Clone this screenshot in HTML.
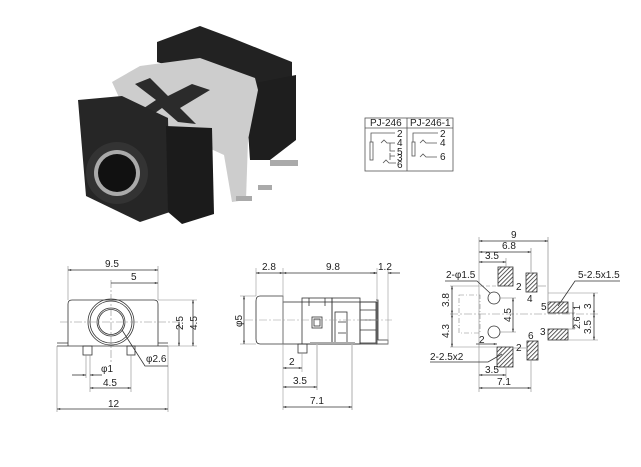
<!DOCTYPE html>
<html><head><meta charset="utf-8"><style>
html,body{margin:0;padding:0;background:#fff;}
svg{display:block;}
text{font-family:"Liberation Sans",sans-serif;font-size:10px;fill:#222;}
</style></head><body>
<svg width="641" height="467" viewBox="0 0 641 467" xmlns="http://www.w3.org/2000/svg">
<defs>
<pattern id="h" width="3" height="3" patternUnits="userSpaceOnUse" patternTransform="rotate(45)">
<rect width="3" height="3" fill="#fff"/><line x1="0" y1="0" x2="0" y2="3" stroke="#333" stroke-width="1.6"/></pattern>
<marker id="a" viewBox="0 0 10 10" refX="10" refY="5" markerWidth="6" markerHeight="4" orient="auto-start-reverse"><path d="M0,2L10,5L0,8z" fill="#333"/></marker>
</defs>

<!-- product photo -->
<g>
<polygon points="157,42 200,26 232,38 262,50 292,62 292,82 255,92 157,62" fill="#222"/>
<polygon points="245,85 296,75 296,140 270,160 250,160" fill="#1e1e1e"/>
<polygon points="112,82 140,66 200,58 255,78 258,90 248,140 246,200 232,202 224,155 165,128 122,104" fill="#cdcdcd"/>
<polygon points="135,84 150,78 168,96 192,84 210,90 180,108 196,124 178,122 162,108 148,118 138,112 156,100" fill="#2b2b2b"/>
<polygon points="78,100 122,96 168,118 170,212 140,222 86,196" fill="#262626"/>
<polygon points="166,126 212,128 214,214 182,224 168,212" fill="#1b1b1b"/>
<circle cx="117" cy="173" r="31" fill="#333"/>
<circle cx="117" cy="173" r="23" fill="#aaa"/>
<circle cx="117" cy="173" r="19" fill="#111"/>
<rect x="270" y="160" width="28" height="6" fill="#aaa"/>
<rect x="236" y="196" width="16" height="5" fill="#aaa"/>
<rect x="258" y="185" width="14" height="5" fill="#aaa"/>
</g>

<!-- schematic box -->
<g stroke="#555" fill="none" stroke-width="0.8">
<rect x="365" y="118" width="88" height="53"/>
<line x1="365" y1="128" x2="453" y2="128"/>
<line x1="407" y1="118" x2="407" y2="171"/>
<rect x="370" y="142" width="3" height="18"/>
<rect x="412" y="142" width="3" height="14"/>
<polyline points="371,142 371,133 395,133"/>
<polyline points="413,142 413,133 438,133"/>
<path d="M381,143 l3,-3 l3,3 h8 M390,143 v8 h5 M390,156 v-3 M383,163 l3,-3 l3,3 h7 M390,160 v-4 h5"/>
<path d="M420,143 l3,-3 l3,3 h11 M420,157 l3,-3 l3,3 h11"/>
</g>
<g style="font-size:9px">
<text x="370" y="126">PJ-246</text><text x="410" y="126">PJ-246-1</text>
<text x="397" y="137">2</text><text x="397" y="146">4</text><text x="397" y="155">5</text>
<text x="397" y="161">3</text><text x="397" y="168">6</text>
<text x="440" y="137">2</text><text x="440" y="146">4</text><text x="440" y="160">6</text>
</g>

<!-- front view -->
<g stroke="#333" stroke-width="0.8" fill="none">
<path d="M68,346 V304 q0,-4 4,-4 H154 q4,0 4,4 V346"/>
<path d="M57,346 H168 M57,343 H68 M158,343 H168"/>
<circle cx="111" cy="322" r="23"/><circle cx="111" cy="322" r="21"/><circle cx="111" cy="322" r="14"/><circle cx="111" cy="322" r="12.5"/>
<rect x="83" y="346" width="9" height="9"/><rect x="127" y="346" width="8" height="9"/>
<g stroke="#888" stroke-width="0.6">
<line x1="68" y1="266" x2="68" y2="300"/><line x1="158" y1="266" x2="158" y2="300"/>
<line x1="111" y1="280" x2="111" y2="362" stroke-dasharray="8,2,2,2"/>
<line x1="60" y1="322" x2="182" y2="322" stroke-dasharray="8,2,2,2"/>
<line x1="158" y1="300" x2="197" y2="300"/><line x1="168" y1="346" x2="197" y2="346"/>
<line x1="57" y1="346" x2="57" y2="412"/><line x1="168" y1="346" x2="168" y2="412"/>
<line x1="86" y1="355" x2="86" y2="378"/><line x1="90" y1="355" x2="90" y2="392"/><line x1="131" y1="355" x2="131" y2="392"/>
</g>
<line x1="68" y1="270" x2="158" y2="270" marker-start="url(#a)" marker-end="url(#a)"/>
<line x1="111" y1="283" x2="158" y2="283" marker-end="url(#a)"/>
<line x1="193" y1="300" x2="193" y2="346" marker-start="url(#a)" marker-end="url(#a)"/>
<line x1="179" y1="322" x2="179" y2="346" marker-start="url(#a)" marker-end="url(#a)"/>
<polyline points="122,330 145,366 168,366"/>
<line x1="72" y1="375" x2="86" y2="375" marker-end="url(#a)"/><line x1="102" y1="375" x2="90" y2="375" marker-end="url(#a)"/>
<line x1="90" y1="388" x2="131" y2="388" marker-start="url(#a)" marker-end="url(#a)"/>
<line x1="57" y1="409" x2="168" y2="409" marker-start="url(#a)" marker-end="url(#a)"/>
</g>
<text x="105" y="267">9.5</text><text x="131" y="280">5</text>
<text x="197" y="330" transform="rotate(-90 197 330)">4.5</text>
<text x="183" y="330" transform="rotate(-90 183 330)">2.5</text>
<text x="146" y="362">φ2.6</text><text x="101" y="372">φ1</text>
<text x="103" y="386">4.5</text><text x="108" y="407">12</text>

<!-- side view -->
<g stroke="#333" stroke-width="0.8" fill="none">
<path d="M283,296 H260 q-4,0 -4,5 V339 q0,5 4,5 H283 Z"/>
<rect x="283" y="302" width="94" height="42"/>
<rect x="302" y="298" width="30" height="46"/>
<rect x="312" y="317" width="10" height="11"/><rect x="314" y="319" width="6" height="7"/>
<rect x="332" y="298" width="28" height="46"/><rect x="335" y="312" width="12" height="32"/>
<rect x="360" y="302" width="16" height="41"/>
<path d="M360,310 H376 M360,320 H376 M360,330 H376 M338,322 H346 M338,333 H346"/>
<path d="M309,298 v8 M325,298 v8"/>
<path d="M376,300 H378 V340 H388 V344 H376"/>
<rect x="298" y="344" width="9" height="9"/>
<rect x="310" y="342" width="45" height="2" fill="#aaa" stroke="none"/>
<g stroke="#999" stroke-width="0.6">
<line x1="245" y1="320" x2="392" y2="320" stroke-dasharray="8,2,2,2"/>
<line x1="256" y1="268" x2="256" y2="296"/><line x1="283" y1="268" x2="283" y2="410"/>
<line x1="377" y1="268" x2="377" y2="300"/><line x1="388" y1="268" x2="388" y2="344"/>
<line x1="240" y1="296" x2="256" y2="296"/><line x1="240" y1="344" x2="256" y2="344"/>
<line x1="302" y1="353" x2="302" y2="372"/>
<line x1="317" y1="344" x2="317" y2="390" stroke="#bbb" stroke-width="1.2"/>
<line x1="352" y1="344" x2="352" y2="410" stroke="#bbb" stroke-width="1.2"/>
</g>
<line x1="256" y1="273" x2="283" y2="273" marker-start="url(#a)" marker-end="url(#a)"/>
<line x1="283" y1="273" x2="377" y2="273" marker-start="url(#a)" marker-end="url(#a)"/>
<line x1="370" y1="273" x2="377" y2="273" marker-end="url(#a)"/><line x1="400" y1="273" x2="388" y2="273" marker-end="url(#a)"/>
<line x1="244" y1="296" x2="244" y2="344" marker-start="url(#a)" marker-end="url(#a)"/>
<line x1="283" y1="368" x2="302" y2="368" marker-start="url(#a)" marker-end="url(#a)"/>
<line x1="283" y1="387" x2="317" y2="387" marker-start="url(#a)" marker-end="url(#a)"/>
<line x1="283" y1="407" x2="352" y2="407" marker-start="url(#a)" marker-end="url(#a)"/>
</g>
<text x="262" y="270">2.8</text><text x="326" y="270">9.8</text><text x="378" y="270">1.2</text>
<text x="242" y="327" transform="rotate(-90 242 327)">φ5</text>
<text x="289" y="365">2</text><text x="293" y="384">3.5</text><text x="310" y="404">7.1</text>

<!-- footprint -->
<g stroke="#333" stroke-width="0.8">
<rect x="498" y="267" width="15" height="19" fill="url(#h)"/>
<rect x="526" y="273" width="11" height="19" fill="url(#h)"/>
<rect x="548" y="302" width="20" height="11" fill="url(#h)"/>
<rect x="548" y="329" width="20" height="11" fill="url(#h)"/>
<rect x="497" y="347" width="16" height="20" fill="url(#h)"/>
<rect x="527" y="341" width="11" height="19" fill="url(#h)"/>
</g>
<g stroke="#333" stroke-width="0.8" fill="none">
<circle cx="494" cy="298" r="6"/><circle cx="494" cy="332" r="6"/>
<g stroke="#888" stroke-width="0.6">
<rect x="459" y="295" width="21" height="38" stroke-dasharray="5,2,1,2"/>
<line x1="450" y1="314" x2="598" y2="314" stroke-dasharray="8,2,2,2"/>
<line x1="479" y1="237" x2="479" y2="392"/>
<line x1="548" y1="237" x2="548" y2="302" stroke="#bbb" stroke-width="1.2"/>
<line x1="531" y1="248" x2="531" y2="273" stroke="#bbb" stroke-width="1.2"/>
<line x1="506" y1="258" x2="506" y2="267"/>
<line x1="506" y1="367" x2="506" y2="378"/><line x1="531" y1="360" x2="531" y2="392"/>
<line x1="480" y1="286" x2="498" y2="286" stroke-dasharray="4,2"/>
<line x1="537" y1="286" x2="546" y2="286"/>
<line x1="548" y1="293" x2="598" y2="293"/><line x1="568" y1="340" x2="598" y2="340"/>
<line x1="568" y1="313" x2="575" y2="313"/><line x1="568" y1="329" x2="575" y2="329"/>
<line x1="450" y1="286" x2="479" y2="286"/><line x1="450" y1="347" x2="497" y2="347"/>
<line x1="500" y1="298" x2="516" y2="298"/><line x1="500" y1="332" x2="516" y2="332"/>
<line x1="513" y1="348" x2="526" y2="348"/>
</g>
<line x1="479" y1="241" x2="548" y2="241" marker-start="url(#a)" marker-end="url(#a)"/>
<line x1="479" y1="252" x2="531" y2="252" marker-start="url(#a)" marker-end="url(#a)"/>
<line x1="479" y1="262" x2="506" y2="262" marker-start="url(#a)" marker-end="url(#a)"/>
<line x1="452" y1="286" x2="452" y2="314" marker-start="url(#a)" marker-end="url(#a)"/>
<line x1="452" y1="314" x2="452" y2="347" marker-start="url(#a)" marker-end="url(#a)"/>
<line x1="513" y1="298" x2="513" y2="332" marker-start="url(#a)" marker-end="url(#a)"/>
<line x1="594" y1="293" x2="594" y2="314" marker-start="url(#a)" marker-end="url(#a)"/>
<line x1="594" y1="314" x2="594" y2="340" marker-start="url(#a)" marker-end="url(#a)"/>
<line x1="573" y1="302" x2="573" y2="313"/><line x1="573" y1="313" x2="573" y2="329"/>
<line x1="476" y1="344" x2="497" y2="344" marker-end="url(#a)"/>
<line x1="479" y1="375" x2="506" y2="375" marker-start="url(#a)" marker-end="url(#a)"/>
<line x1="479" y1="388" x2="531" y2="388" marker-start="url(#a)" marker-end="url(#a)"/>
<polyline points="445,281 477,281 490,293"/>
<polyline points="558,306 575,281 620,281"/>
<polyline points="430,362 488,362 502,354"/>
</g>
<text x="511" y="238">9</text><text x="502" y="249">6.8</text><text x="485" y="259">3.5</text>
<text x="446" y="278">2-φ1.5</text><text x="578" y="278">5-2.5x1.5</text>
<text x="516" y="290">2</text><text x="527" y="302">4</text>
<text x="541" y="310">5</text><text x="540" y="335">3</text>
<text x="516" y="351">2</text><text x="528" y="339">6</text>
<text x="479" y="343">2</text><text x="485" y="373">3.5</text><text x="497" y="385">7.1</text>
<text x="430" y="360">2-2.5x2</text>
<text x="449" y="307" transform="rotate(-90 449 307)">3.8</text>
<text x="449" y="338" transform="rotate(-90 449 338)">4.3</text>
<text x="511" y="322" transform="rotate(-90 511 322)">4.5</text>
<text x="591" y="309" transform="rotate(-90 591 309)">3</text>
<text x="591" y="334" transform="rotate(-90 591 334)">3.5</text>
<text x="580" y="310" transform="rotate(-90 580 310)" style="font-size:9px">1</text>
<text x="580" y="329" transform="rotate(-90 580 329)" style="font-size:9px">2.6</text>
</svg>
</body></html>
